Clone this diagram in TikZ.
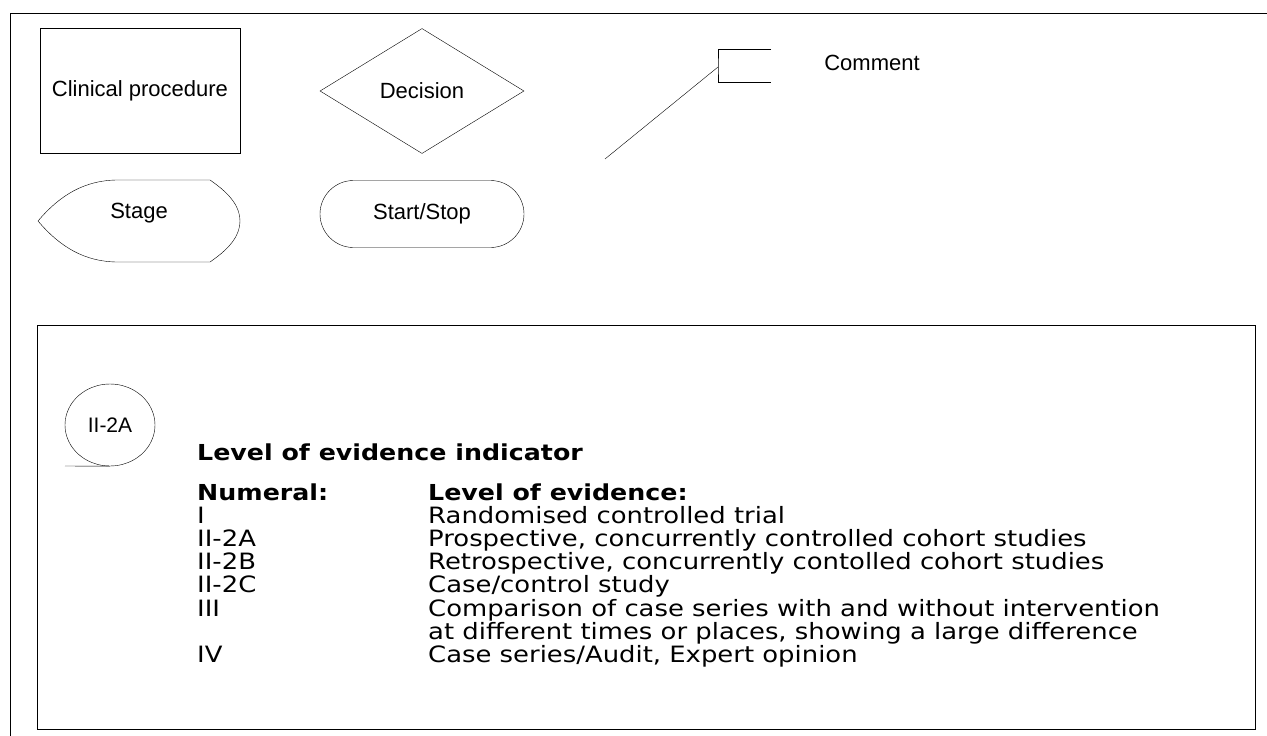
\documentclass[tikz,border=0pt]{standalone}
\usepackage{fontspec}
\setmainfont{Liberation Sans}
\newfontfamily\verdana[FakeStretch=1.15]{DejaVu Sans}
\usetikzlibrary{shapes.geometric,shapes.misc,positioning}

\begin{document}
\begin{tikzpicture}[
	x=1pt, y=-1pt,
	every node/.style={font=\fontsize{22}{26}\selectfont},
	procbox/.style = {draw, rectangle, minimum width=200pt, minimum height=125pt, inner sep=0pt},
	decide/.style = {draw, diamond, minimum width=204pt, minimum height=125pt, inner sep=0pt},
	startstop/.style = {draw, rounded rectangle, minimum width=204pt, minimum height=67pt, inner sep=0pt},
	indicator/.style = {draw, ellipse, minimum width=90pt, minimum height=82pt, inner sep=0pt, font=\fontsize{21}{24}\selectfont},
	txt/.style = {anchor=base west, inner sep=0pt, font=\verdana\fontsize{22.5}{23}\selectfont},
	head/.style = {txt, font=\verdana\bfseries\fontsize{22}{23}\selectfont}
	]
	\useasboundingbox (0,0) rectangle (1267,736);
	\draw (1267,13) -| (10,736);

	% symbols
	\node[procbox] (proc) at (140,91) {Clinical procedure};
	\node[decide] (dec) at (422,91) {Decision};
	\node (stage) at (139,213) {Stage};
	\draw (38,221) .. controls (60,195) and (85,180) .. (118,180) -- (210,180)
		.. controls (232,195) and (240,208) .. (240,221)
		.. controls (240,234) and (232,247) .. (210,262) -- (118,262)
		.. controls (85,262) and (60,247) .. (38,221);
	\node[startstop] (stst) at (422,214) {Start/Stop};

	\coordinate (@b1) at (771,49);
	\coordinate (@b2) at (771,82);
	\coordinate (@m) at (718,67);
	\coordinate (@e) at (605,159);
	\draw (@b1) -| (@m) |- (@b2);
	\draw (@m) -- (@e);
	\node (com) at (872,63) {Comment};

	% legend
	\draw (37,325) rectangle (1255,729);
	\node[indicator] (ind) at (110,425) {II-2A};
	\coordinate (@t) at (65,466);
	\draw (@t) -- (ind.south);

	\node[head] (title) at (197,460) {Level of evidence indicator};
	\node[head] (numh) at (197,500) {Numeral:};
	\node[head] (levh) at (428,500) {Level of evidence:};
	\node[txt] (n1) at (197,523) {I};
	\node[txt] (l1) at (428,523) {Randomised controlled trial};
	\node[txt] (n2) at (197,546) {II-2A};
	\node[txt] (l2) at (428,546) {Prospective, concurrently controlled cohort studies};
	\node[txt] (n3) at (197,569) {II-2B};
	\node[txt] (l3) at (428,569) {Retrospective, concurrently contolled cohort studies};
	\node[txt] (n4) at (197,592) {II-2C};
	\node[txt] (l4) at (428,592) {Case/control study};
	\node[txt] (n5) at (197,616) {III};
	\node[txt] (l5) at (428,616) {Comparison of case series with and without intervention};
	\node[txt] (l5b) at (428,639) {at different times or places, showing a large difference};
	\node[txt] (n6) at (197,662) {IV};
	\node[txt] (l6) at (428,662) {Case series/Audit, Expert opinion};

\end{tikzpicture}
\end{document}
